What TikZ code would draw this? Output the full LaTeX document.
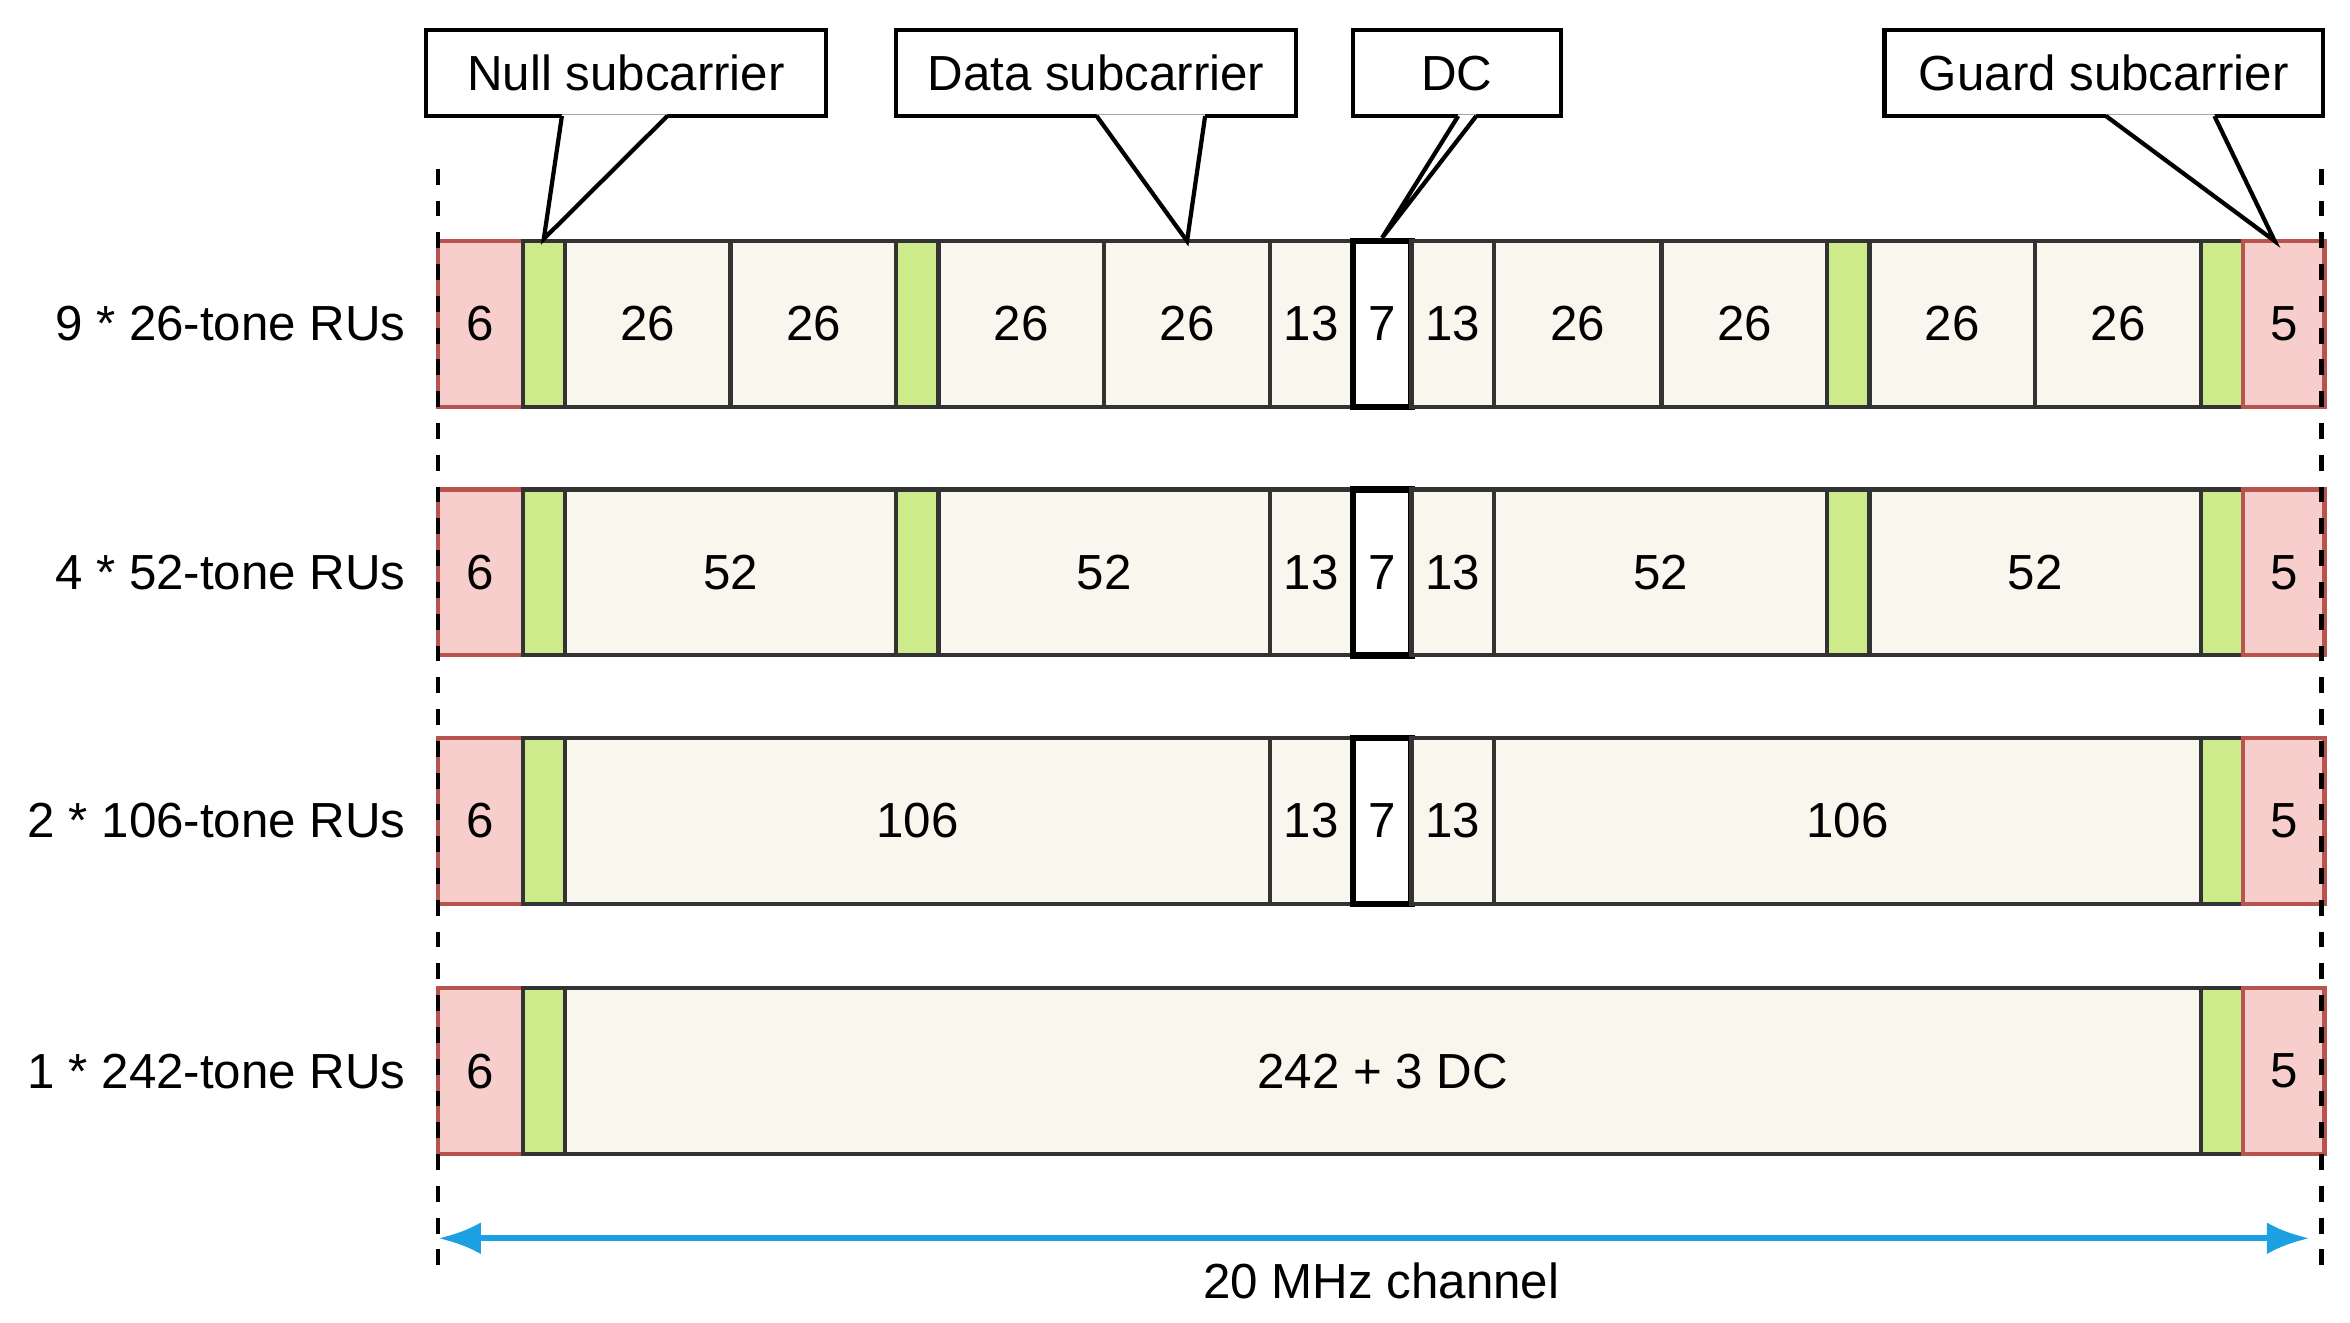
\documentclass[tikz,border=0pt]{standalone}
\usepackage{fontspec}
\setmainfont{Liberation Sans}
\usetikzlibrary{arrows.meta}
\definecolor{guardfill}{HTML}{F8CECC}
\definecolor{guarddraw}{HTML}{B85450}
\definecolor{nullfill}{HTML}{CDEB8B}
\definecolor{datafill}{HTML}{F9F7ED}
\definecolor{chanblue}{HTML}{1BA1E2}
\tikzset{cell/.style={draw=black!80, thick, minimum height=1.1cm, inner sep=0pt, font=\fontsize{9.3}{11}\selectfont},
g/.style={cell, fill=guardfill, draw=guarddraw},
n/.style={cell, fill=nullfill},
d/.style={cell, fill=datafill},
c/.style={cell, fill=white, draw=black, very thick},
callout/.style={draw, thick, fill=white, inner sep=0pt, line join=miter, font=\fontsize{9.3}{11}\selectfont},
rowlabel/.style={anchor=east, inner sep=0pt, font=\fontsize{9.3}{11}\selectfont},
line/.style={{Latex[length=8pt]}-{Latex[length=8pt]}, chanblue, very thick}
}
\begin{document}
\begin{tikzpicture}[x=0.01cm,y=-0.01cm]
\useasboundingbox (0,0) rectangle (1560,878);
% RU rows
\foreach \y/\lab/\cells [count=\r] in {
215/{9 * 26-tone RUs}/{291/347/g/6,347/375/n/,375/485/d/26,485/595/d/26,595/623/n/,623/733/d/26,733/843/d/26,843/898/d/13,898/937/c/7,937/992/d/13,992/1103/d/26,1103/1213/d/26,1213/1241/n/,1241/1351/d/26,1351/1461/d/26,1461/1489/n/,1489/1543/g/5},
380/{4 * 52-tone RUs}/{291/347/g/6,347/375/n/,375/595/d/52,595/623/n/,623/843/d/52,843/898/d/13,898/937/c/7,937/992/d/13,992/1213/d/52,1213/1241/n/,1241/1461/d/52,1461/1489/n/,1489/1543/g/5},
545/{2 * 106-tone RUs}/{291/347/g/6,347/375/n/,375/843/d/106,843/898/d/13,898/937/c/7,937/992/d/13,992/1461/d/106,1461/1489/n/,1489/1543/g/5},
711/{1 * 242-tone RUs}/{291/347/g/6,347/375/n/,375/1461/d/242 + 3 DC,1461/1489/n/,1489/1543/g/5}}{
  \node[rowlabel] (lab\r) at (270,\y) {\lab};
  \foreach \xa/\xb/\st/\txt [count=\i] in \cells {
    \pgfmathsetmacro\w{(\xb-\xa)*0.01}
    \node[\st, minimum width=\w cm] (r\r c\i) at ({(\xa+\xb)/2},\y) {\txt};
  }
}
% channel edges
\coordinate (lt) at (291,112); \coordinate (lb) at (291,850);
\coordinate (rt) at (1541,112); \coordinate (rb) at (1541,850);
\draw[thick, dashed] (lt) -- (lb);
\draw[thick, dashed] (rt) -- (rb);
\coordinate (al) at (291,822); \coordinate (ar) at (1533,822);
\draw[line] (al) -- (ar);
\node[font=\fontsize{9.3}{11}\selectfont] (chan) at (917,850) {20 MHz channel};
% callouts
\node[callout, minimum width=2.65cm, minimum height=0.57cm] (nullbox) at (415.5,48.5) {Null subcarrier};
\node[callout, minimum width=2.65cm, minimum height=0.57cm] (databox) at (727.5,48.5) {Data subcarrier};
\node[callout, minimum width=1.38cm, minimum height=0.57cm] (dcbox) at (967,48.5) {DC};
\node[callout, minimum width=2.91cm, minimum height=0.57cm] (guardbox) at (1396.5,48.5) {Guard subcarrier};
\fill[white] (373,76) -- (360,160) -- (443,76) -- cycle;
\draw[thick] (373,77) -- (r1c2.north) -- (443,77);
\fill[white] (728,76) -- (788,160) -- (800,76) -- cycle;
\draw[thick] (728,77) -- (788,160) -- (800,77);
\fill[white] (968,76) -- (r1c9.north) -- (980,76) -- cycle;
\draw[thick] (968,77) -- (r1c9.north) -- (980,77);
\fill[white] (1398,76) -- (1510,160) -- (1470,76) -- cycle;
\draw[thick] (1398,77) -- (1510,160) -- (1470,77);
\end{tikzpicture}
\end{document}
